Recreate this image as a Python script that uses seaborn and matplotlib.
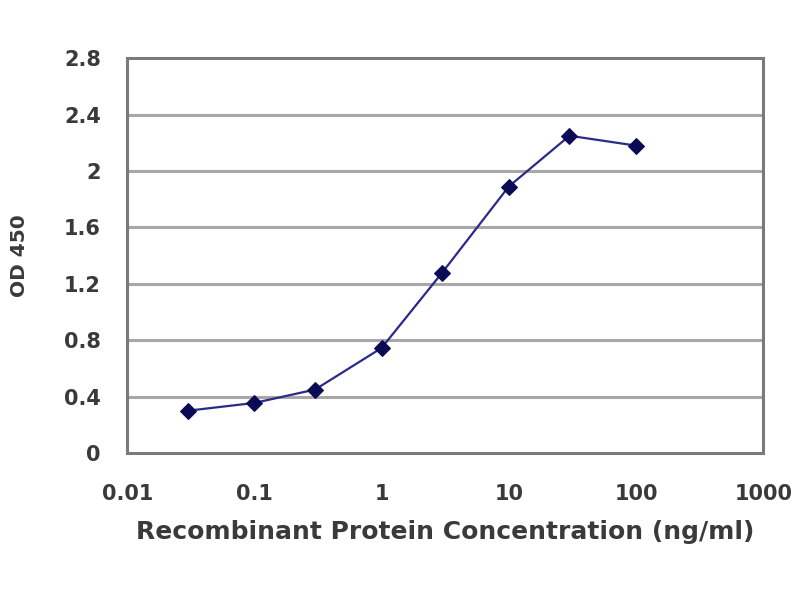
import matplotlib
matplotlib.use("Agg")
import matplotlib.pyplot as plt
import seaborn as sns
import pandas as pd
from matplotlib.ticker import FixedLocator, FixedFormatter, NullLocator

conc = [0.03, 0.1, 0.3, 1, 3, 10, 30, 100]
od450 = [0.30, 0.355, 0.45, 0.745, 1.28, 1.89, 2.25, 2.18]
x_ticks = [0.01, 0.1, 1, 10, 100, 1000]
x_labels = ["0.01", "0.1", "1", "10", "100", "1000"]
y_ticks = [0, 0.4, 0.8, 1.2, 1.6, 2.0, 2.4, 2.8]
y_labels = ["0", "0.4", "0.8", "1.2", "1.6", "2", "2.4", "2.8"]

sns.set_style("white")
plt.rcParams['font.family'] = ['DejaVu Sans']

df = pd.DataFrame({"conc": conc, "od": od450})

fig = plt.figure(figsize=(8, 6), dpi=100)
ax = fig.add_axes([0.159, 0.245, 0.795, 0.658])

sns.lineplot(data=df, x="conc", y="od", ax=ax, color="#2a2a8a", linewidth=1.6,
             marker="D", markersize=8, markerfacecolor="#0b0b55",
             markeredgecolor="#0b0b55")

ax.set_xscale("log")
ax.set_xlim(0.01, 1000)
ax.set_ylim(0, 2.8)
ax.xaxis.set_major_locator(FixedLocator(x_ticks))
ax.xaxis.set_major_formatter(FixedFormatter(x_labels))
ax.xaxis.set_minor_locator(NullLocator())
ax.yaxis.set_major_locator(FixedLocator(y_ticks))
ax.yaxis.set_major_formatter(FixedFormatter(y_labels))

ax.grid(False)
for y in y_ticks[1:-1]:
    ax.axhline(y, color="#a8a8a8", linewidth=2.2, zorder=0)

for s in ax.spines.values():
    s.set_visible(True)
    s.set_color("#7a7a7a")
    s.set_linewidth(2.2)

ax.tick_params(axis="x", direction="in", length=5, width=1.5, color="#8a8a8a",
               labelsize=15, labelcolor="#3a3a3a", pad=22)
ax.tick_params(axis="y", direction="out", length=0, labelsize=15,
               labelcolor="#3a3a3a", pad=19)
for lbl in ax.get_xticklabels() + ax.get_yticklabels():
    lbl.set_fontweight("bold")

ax.set_xlabel("Recombinant Protein Concentration (ng/ml)", fontsize=18,
              color="#3a3a3a", labelpad=12, fontweight="bold")
ax.set_ylabel("OD 450", fontsize=14.5, color="#3a3a3a", labelpad=25,
              fontweight="bold")

fig.savefig("out.png", dpi=100, facecolor="white")
